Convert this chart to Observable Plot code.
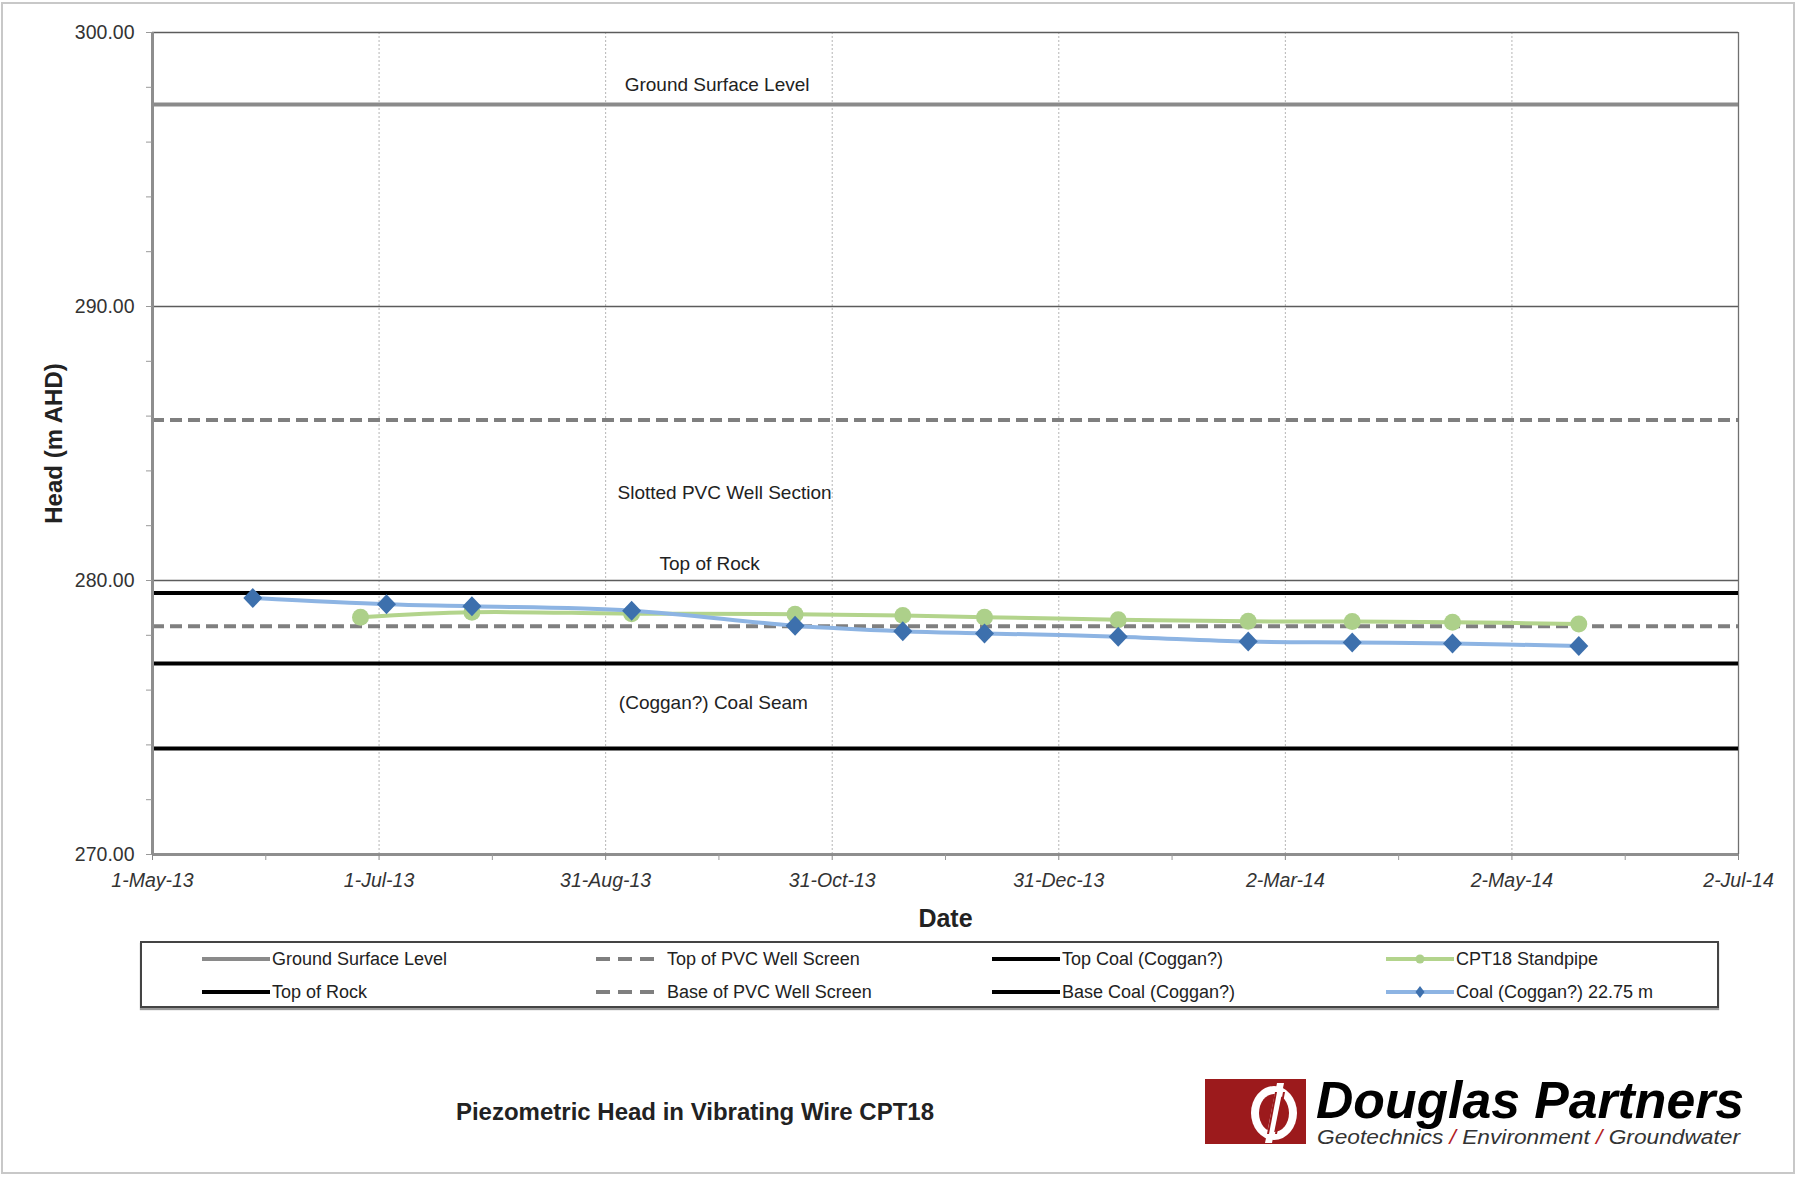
<!DOCTYPE html>
<html>
<head>
<meta charset="utf-8">
<script src="https://cdn.jsdelivr.net/npm/d3@7"></script>
<script src="https://cdn.jsdelivr.net/npm/@observablehq/plot@0.6"></script>
<style>
html,body{margin:0;padding:0;background:#fff;}
body{width:1798px;height:1177px;position:relative;overflow:hidden;font-family:"Liberation Sans",Arial,sans-serif;color:#222;}
#frame{position:absolute;left:1px;top:2px;width:1794px;height:1172px;border:2px solid #c8c8c8;box-sizing:border-box;}
#chart{position:absolute;left:0;top:0;}
#legend{position:absolute;left:140px;top:941px;width:1579px;height:67px;border:2px solid #444;box-sizing:border-box;box-shadow:0 2px 1px #999;background:#fff;}
.lg-item{position:absolute;display:flex;align-items:center;height:24px;font-size:18px;color:#222;white-space:nowrap;}
.lg-item svg{display:block;}
#title{position:absolute;left:345px;width:700px;top:1098px;text-align:center;font-weight:bold;font-size:24px;color:#222;}
#logo{position:absolute;left:1195px;top:1070px;}
</style>
</head>
<body>
<div id="frame"></div>
<div id="chart"></div>
<div id="legend"></div>
<div id="title">Piezometric Head in Vibrating Wire CPT18</div>
<svg id="logo" width="580" height="90" xmlns="http://www.w3.org/2000/svg">
  <rect x="10" y="9" width="101" height="65" fill="#9c1a1c"/>
  <ellipse cx="79" cy="43" rx="23" ry="27" fill="#fff"/>
  <ellipse cx="79" cy="43" rx="15" ry="19" fill="#9c1a1c"/>
  <polygon points="82,13 89,13 77,73 70,73" fill="#fff"/>
  <polygon points="80,22 82,22 74,64 72,64" fill="#9c1a1c"/>
  <polygon points="88,22 90,22 82,64 80,64" fill="#9c1a1c"/>
  <text x="121" y="48" font-family="Liberation Sans, Arial, sans-serif" font-size="52" font-weight="bold" font-style="italic" fill="#000" textLength="428" lengthAdjust="spacingAndGlyphs">Douglas Partners</text>
  <text x="122" y="74" font-family="Liberation Sans, Arial, sans-serif" font-size="20" font-style="italic" fill="#333" textLength="423" lengthAdjust="spacingAndGlyphs">Geotechnics <tspan fill="#b32025">/</tspan> Environment <tspan fill="#b32025">/</tspan> Groundwater</text>
</svg>
<script>
// ---------------- data ----------------
const xTickDates = ["2013-05-01","2013-07-01","2013-08-31","2013-10-31","2013-12-31","2014-03-02","2014-05-02","2014-07-02"];
const xTickLabels = ["1-May-13","1-Jul-13","31-Aug-13","31-Oct-13","31-Dec-13","2-Mar-14","2-May-14","2-Jul-14"];
const yTicks = [270, 280, 290, 300];
const yTickLabels = ["270.00","280.00","290.00","300.00"];

const refNames  = ["Ground Surface Level","Top of PVC Well Screen","Top of Rock","Base of PVC Well Screen","Top Coal (Coggan?)","Base Coal (Coggan?)"];
const refValues = [297.37, 285.86, 279.54, 278.33, 276.97, 273.87];

const standpipeDates  = ["2013-06-26","2013-07-26","2013-09-07","2013-10-21","2013-11-19","2013-12-11","2014-01-16","2014-02-20","2014-03-20","2014-04-16","2014-05-20"];
const standpipeValues = [278.66, 278.84, 278.79, 278.77, 278.72, 278.66, 278.57, 278.51, 278.50, 278.48, 278.41];

const coalDates  = ["2013-05-28","2013-07-03","2013-07-26","2013-09-07","2013-10-21","2013-11-19","2013-12-11","2014-01-16","2014-02-20","2014-03-20","2014-04-16","2014-05-20"];
const coalValues = [279.36, 279.13, 279.06, 278.90, 278.35, 278.15, 278.07, 277.95, 277.77, 277.74, 277.70, 277.61];

const zoneLabels      = ["Ground Surface Level","Slotted PVC Well Section","Top of Rock","(Coggan?) Coal Seam"];
const zoneLabelDates  = ["2013-09-30","2013-10-02","2013-09-28","2013-09-29"];
const zoneLabelValues = [298.07, 283.18, 280.59, 275.52];

const legendRows = [
  ["Ground Surface Level","Top of PVC Well Screen","Top Coal (Coggan?)","CPT18 Standpipe"],
  ["Top of Rock","Base of PVC Well Screen","Base Coal (Coggan?)","Coal (Coggan?) 22.75 m"]
];

// ---------------- styles ----------------
const FONT = "Liberation Sans, Arial, sans-serif";
const refStyle = {
  "Ground Surface Level":   {stroke:"#8a8a8a", width:4,   dash:null},
  "Top of PVC Well Screen": {stroke:"#7f7f7f", width:4,   dash:"12,6"},
  "Top of Rock":            {stroke:"#000000", width:4,   dash:null},
  "Base of PVC Well Screen":{stroke:"#7f7f7f", width:4,   dash:"12,6"},
  "Top Coal (Coggan?)":     {stroke:"#000000", width:4,   dash:null},
  "Base Coal (Coggan?)":    {stroke:"#000000", width:4,   dash:null}
};
const GREEN_LINE = "#b3d48c", GREEN_DOT = "#add08a";
const BLUE_LINE = "#8db4e3", BLUE_DOT = "#3d70ad";

// diamond symbol (square rotated 45deg)
const diamond = {
  draw(context, size) {
    const r = Math.sqrt(size / Math.PI);
    context.moveTo(0, -r);
    context.lineTo(r * 0.95, 0);
    context.lineTo(0, r);
    context.lineTo(-r * 0.95, 0);
    context.closePath();
  }
};

// ---------------- build ----------------
const parse = s => new Date(s + "T00:00:00Z");
const xTicks = xTickDates.map(parse);
const xMinor = xTicks.slice(0, -1).map((d, i) => new Date((+d + +xTicks[i + 1]) / 2));
const yMinor = d3.range(yTicks[0], yTicks[yTicks.length - 1] + 0.001, 2);

const refs = refNames.map((n, i) => ({name: n, value: refValues[i]}));
const standpipe = standpipeDates.map((d, i) => ({date: parse(d), value: standpipeValues[i]}));
const coal = coalDates.map((d, i) => ({date: parse(d), value: coalValues[i]}));
const zones = zoneLabels.map((t, i) => ({text: t, date: parse(zoneLabelDates[i]), value: zoneLabelValues[i]}));

const xFmt = d => { const i = xTicks.findIndex(t => +t === +d); return i >= 0 ? xTickLabels[i] : ""; };
const yFmt = v => { const i = yTicks.indexOf(v); return i >= 0 ? yTickLabels[i] : ""; };

const refMarks = refs.map(r => Plot.ruleY([r], {
  y: "value",
  stroke: refStyle[r.name].stroke,
  strokeWidth: refStyle[r.name].width,
  strokeDasharray: refStyle[r.name].dash || undefined
}));

const chart = Plot.plot({
  width: 1798,
  height: 935,
  marginLeft: 152,
  marginRight: 60,
  marginTop: 32,
  marginBottom: 81,
  style: {fontFamily: FONT, fontSize: "19px", color: "#333", background: "transparent", overflow: "visible"},
  x: {type: "utc", domain: [xTicks[0], xTicks[xTicks.length - 1]]},
  y: {domain: [yTicks[0], yTicks[yTicks.length - 1]]},
  marks: [
    // vertical dotted gridlines
    Plot.ruleX(xTicks.slice(1, -1), {stroke: "#b5b5b5", strokeWidth: 1, strokeDasharray: "2,2"}),
    // horizontal gridlines
    Plot.ruleY(yTicks.slice(1), {stroke: "#5c5c5c", strokeWidth: 1.6}),
    // right frame edge
    Plot.ruleX([xTicks[xTicks.length - 1]], {stroke: "#707070", strokeWidth: 1.3}),
    // reference levels
    ...refMarks,
    // axis lines
    Plot.ruleX([xTicks[0]], {stroke: "#8e8e8e", strokeWidth: 3}),
    Plot.ruleY([yTicks[0]], {stroke: "#8e8e8e", strokeWidth: 3}),
    // series
    Plot.line(standpipe, {x: "date", y: "value", stroke: GREEN_LINE, strokeWidth: 4, curve: "catmull-rom"}),
    Plot.dot(standpipe, {x: "date", y: "value", r: 8.5, fill: GREEN_DOT, stroke: "none"}),
    Plot.line(coal, {x: "date", y: "value", stroke: BLUE_LINE, strokeWidth: 4, curve: "catmull-rom"}),
    Plot.dot(coal, {x: "date", y: "value", r: 10, symbol: diamond, fill: BLUE_DOT, stroke: "none"}),
    // zone labels
    Plot.text(zones, {x: "date", y: "value", text: "text", fontSize: 19, fill: "#222", fontFamily: FONT}),
    // axes
    Plot.axisY(yTicks, {tickFormat: yFmt, tickSize: 6, tickPadding: 12, stroke: "#888", fill: "#333", fontSize: 19.5, label: null}),
    Plot.axisY(yMinor, {tickFormat: () => "", tickSize: 6, stroke: "#999", label: null}),
    Plot.axisX(xTicks, {tickFormat: xFmt, tickSize: 6, tickPadding: 13, stroke: "#888", fill: "#333", fontSize: 19.5, fontStyle: "italic", label: null}),
    Plot.axisX(xMinor, {tickFormat: () => "", tickSize: 6, stroke: "#999", label: null}),
    // axis titles
    Plot.text(["Head (m AHD)"], {frameAnchor: "left", textAnchor: "middle", rotate: -90, dx: -98, fontSize: 24, fontWeight: "bold", fill: "#222", fontFamily: FONT}),
    Plot.text(["Date"], {frameAnchor: "bottom", dy: 72, fontSize: 25, fontWeight: "bold", fill: "#222", fontFamily: FONT})
  ]
});
document.getElementById("chart").appendChild(chart);

// ---------------- legend ----------------
const legend = document.getElementById("legend");
const colX = [60, 454, 850, 1244];
const rowY = [4, 37];
const sampleFor = name => {
  const ns = "http://www.w3.org/2000/svg";
  const svg = document.createElementNS(ns, "svg");
  const isDash = refStyle[name] && refStyle[name].dash;
  const w = isDash ? 58 : 68;
  svg.setAttribute("width", w);
  svg.setAttribute("height", 24);
  const line = document.createElementNS(ns, "line");
  line.setAttribute("x1", 0); line.setAttribute("x2", w);
  line.setAttribute("y1", 12); line.setAttribute("y2", 12);
  if (refStyle[name]) {
    line.setAttribute("stroke", refStyle[name].stroke);
    line.setAttribute("stroke-width", refStyle[name].width);
    if (isDash) line.setAttribute("stroke-dasharray", "14,8");
    svg.appendChild(line);
  } else if (name === "CPT18 Standpipe") {
    line.setAttribute("stroke", GREEN_LINE); line.setAttribute("stroke-width", 4);
    svg.appendChild(line);
    const c = document.createElementNS(ns, "circle");
    c.setAttribute("cx", w / 2); c.setAttribute("cy", 12); c.setAttribute("r", 4.5);
    c.setAttribute("fill", GREEN_DOT);
    svg.appendChild(c);
  } else {
    line.setAttribute("stroke", BLUE_LINE); line.setAttribute("stroke-width", 4);
    svg.appendChild(line);
    const p = document.createElementNS(ns, "path");
    const cx = w / 2;
    p.setAttribute("d", `M${cx},6L${cx + 4.5},12L${cx},18L${cx - 4.5},12Z`);
    p.setAttribute("fill", BLUE_DOT);
    svg.appendChild(p);
  }
  return {svg, isDash};
};
legendRows.forEach((row, ri) => row.forEach((name, ci) => {
  const item = document.createElement("div");
  item.className = "lg-item";
  item.style.left = colX[ci] + "px";
  item.style.top = rowY[ri] + "px";
  const {svg, isDash} = sampleFor(name);
  item.appendChild(svg);
  const span = document.createElement("span");
  span.textContent = name;
  span.style.marginLeft = (isDash ? 13 : 2) + "px";
  item.appendChild(span);
  legend.appendChild(item);
}));
</script>
</body>
</html>
